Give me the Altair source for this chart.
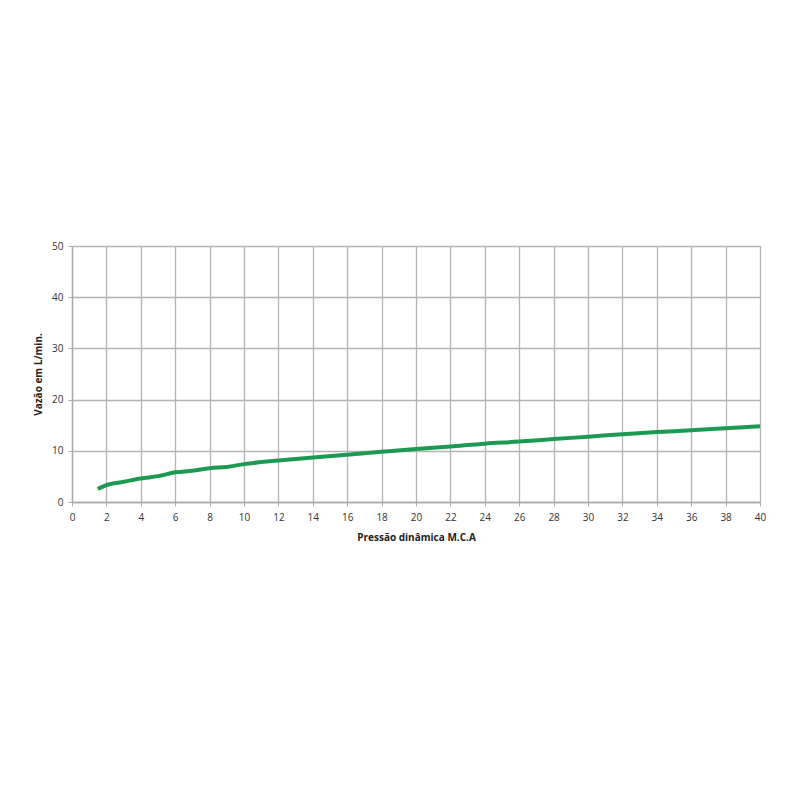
import altair as alt
import pandas as pd

pressao = [1.5, 2, 3, 4, 5, 6, 7, 8, 9, 10, 12, 14, 16, 18, 20, 22, 24, 26, 28, 30, 32, 34, 36, 38, 40]
vazao = [2.55, 3.3, 3.95, 4.6, 5.05, 5.8, 6.1, 6.6, 6.85, 7.4, 8.1, 8.7, 9.25, 9.8, 10.35, 10.85, 11.4, 11.8, 12.3, 12.75, 13.25, 13.65, 14.0, 14.4, 14.8]

df = pd.DataFrame({"x": pressao, "y": vazao})

FONT = "Open Sans"

chart = alt.Chart(df).mark_line(color="#1d9a52", strokeWidth=4, interpolate="monotone").encode(
    x=alt.X("x:Q", title="Pressão dinâmica M.C.A",
            scale=alt.Scale(domain=[0, 40], nice=False),
            axis=alt.Axis(values=list(range(0, 41, 2)), grid=True, gridColor="#b4b4b4", gridWidth=1.3,
                          domainColor="#a8a8a8", domainWidth=1.3, tickColor="#a8a8a8", tickSize=4,
                          labelFlush=False,
                          labelFont=FONT, labelFontSize=10, labelColor="#333333", labelPadding=6,
                          titleFont=FONT, titleFontSize=10, titleFontWeight="bold", titleColor="#222222",
                          titlePadding=10)),
    y=alt.Y("y:Q", title="Vazão em L/min.",
            scale=alt.Scale(domain=[0, 50], nice=False),
            axis=alt.Axis(values=list(range(0, 51, 10)), grid=True, gridColor="#b4b4b4", gridWidth=1.3,
                          domainColor="#a8a8a8", domainWidth=1.3, tickColor="#a8a8a8", tickSize=4,
                          labelFlush=False,
                          labelFont=FONT, labelFontSize=10, labelColor="#333333", labelPadding=5,
                          titleFont=FONT, titleFontSize=10, titleFontWeight="bold", titleColor="#222222",
                          titlePadding=8)),
).properties(
    width=688, height=256,
    autosize=alt.AutoSizeParams(type="none"),
    padding={"left": 64, "top": 238, "right": 20, "bottom": 260},
).configure_view(stroke="#b4b4b4", strokeWidth=1.3).configure(background="white")

chart.save("out.html", embed_options={"renderer": "svg", "actions": False})
